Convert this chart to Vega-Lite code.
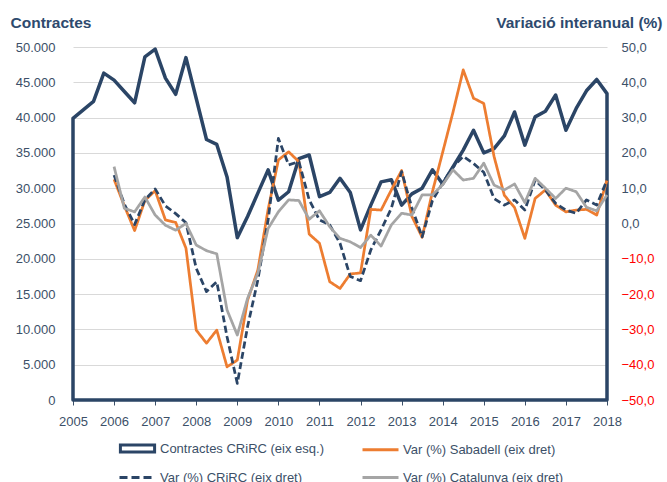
{
  "$schema": "https://vega.github.io/schema/vega-lite/v6.json",
  "width": 534,
  "height": 353,
  "autosize": {"type": "none"},
  "padding": {"left": 73, "top": 47, "right": 60, "bottom": 82},
  "background": "white",
  "title": {"text": "Contractació", "anchor": "start", "frame": "group", "orient": "top", "offset": 43, "baseline": "alphabetic", "dx": -63, "font": "Liberation Sans", "fontSize": 28, "fontWeight": "bold", "color": "#2e4a6e"},
  "config": {
    "view": {"stroke": null},
    "axis": {"labelFont": "Liberation Sans", "labelFontSize": 13, "labelColor": "#3c5068", "titleFont": "Liberation Sans"},
    "legend": {"labelFont": "Liberation Sans", "labelFontSize": 13, "labelColor": "#3c5068"}
  },
  "datasets": {
    "contractes": [
      {"t": 2005, "v": 39900}, {"t": 2005.25, "v": 41100}, {"t": 2005.5, "v": 42300}, {"t": 2005.75, "v": 46300},
      {"t": 2006, "v": 45300}, {"t": 2006.25, "v": 43700}, {"t": 2006.5, "v": 42100}, {"t": 2006.75, "v": 48600},
      {"t": 2007, "v": 49700}, {"t": 2007.25, "v": 45600}, {"t": 2007.5, "v": 43300}, {"t": 2007.75, "v": 48500},
      {"t": 2008, "v": 42700}, {"t": 2008.25, "v": 36900}, {"t": 2008.5, "v": 36200}, {"t": 2008.75, "v": 31600},
      {"t": 2009, "v": 23000}, {"t": 2009.25, "v": 26000}, {"t": 2009.5, "v": 29300}, {"t": 2009.75, "v": 32600},
      {"t": 2010, "v": 28300}, {"t": 2010.25, "v": 29500}, {"t": 2010.5, "v": 34200}, {"t": 2010.75, "v": 34700},
      {"t": 2011, "v": 28800}, {"t": 2011.25, "v": 29400}, {"t": 2011.5, "v": 31400}, {"t": 2011.75, "v": 29400},
      {"t": 2012, "v": 24100}, {"t": 2012.25, "v": 27600}, {"t": 2012.5, "v": 30900}, {"t": 2012.75, "v": 31200},
      {"t": 2013, "v": 27600}, {"t": 2013.25, "v": 29200}, {"t": 2013.5, "v": 30000}, {"t": 2013.75, "v": 32600},
      {"t": 2014, "v": 30600}, {"t": 2014.25, "v": 33000}, {"t": 2014.5, "v": 35400}, {"t": 2014.75, "v": 38200},
      {"t": 2015, "v": 35000}, {"t": 2015.25, "v": 35600}, {"t": 2015.5, "v": 37400}, {"t": 2015.75, "v": 40800},
      {"t": 2016, "v": 36100}, {"t": 2016.25, "v": 40100}, {"t": 2016.5, "v": 40900}, {"t": 2016.75, "v": 43200},
      {"t": 2017, "v": 38200}, {"t": 2017.25, "v": 41300}, {"t": 2017.5, "v": 43800}, {"t": 2017.75, "v": 45400},
      {"t": 2018, "v": 43400}
    ],
    "var": [
      {"s": "Var (%) Sabadell (eix dret)", "t": 2006, "v": 12.5},
      {"s": "Var (%) Sabadell (eix dret)", "t": 2006.25, "v": 5.0},
      {"s": "Var (%) Sabadell (eix dret)", "t": 2006.5, "v": -2.0},
      {"s": "Var (%) Sabadell (eix dret)", "t": 2006.75, "v": 6.5},
      {"s": "Var (%) Sabadell (eix dret)", "t": 2007, "v": 9.3},
      {"s": "Var (%) Sabadell (eix dret)", "t": 2007.25, "v": 1.0},
      {"s": "Var (%) Sabadell (eix dret)", "t": 2007.5, "v": 0.3},
      {"s": "Var (%) Sabadell (eix dret)", "t": 2007.75, "v": -7.0},
      {"s": "Var (%) Sabadell (eix dret)", "t": 2008, "v": -30.2},
      {"s": "Var (%) Sabadell (eix dret)", "t": 2008.25, "v": -33.9},
      {"s": "Var (%) Sabadell (eix dret)", "t": 2008.5, "v": -30.2},
      {"s": "Var (%) Sabadell (eix dret)", "t": 2008.75, "v": -40.6},
      {"s": "Var (%) Sabadell (eix dret)", "t": 2009, "v": -38.7},
      {"s": "Var (%) Sabadell (eix dret)", "t": 2009.25, "v": -21.7},
      {"s": "Var (%) Sabadell (eix dret)", "t": 2009.5, "v": -13.2},
      {"s": "Var (%) Sabadell (eix dret)", "t": 2009.75, "v": 4.0},
      {"s": "Var (%) Sabadell (eix dret)", "t": 2010, "v": 18.0},
      {"s": "Var (%) Sabadell (eix dret)", "t": 2010.25, "v": 20.3},
      {"s": "Var (%) Sabadell (eix dret)", "t": 2010.5, "v": 17.5},
      {"s": "Var (%) Sabadell (eix dret)", "t": 2010.75, "v": -3.0},
      {"s": "Var (%) Sabadell (eix dret)", "t": 2011, "v": -5.6},
      {"s": "Var (%) Sabadell (eix dret)", "t": 2011.25, "v": -16.5},
      {"s": "Var (%) Sabadell (eix dret)", "t": 2011.5, "v": -18.4},
      {"s": "Var (%) Sabadell (eix dret)", "t": 2011.75, "v": -14.3},
      {"s": "Var (%) Sabadell (eix dret)", "t": 2012, "v": -14.0},
      {"s": "Var (%) Sabadell (eix dret)", "t": 2012.25, "v": 4.0},
      {"s": "Var (%) Sabadell (eix dret)", "t": 2012.5, "v": 3.8},
      {"s": "Var (%) Sabadell (eix dret)", "t": 2012.75, "v": 9.5},
      {"s": "Var (%) Sabadell (eix dret)", "t": 2013, "v": 15.0},
      {"s": "Var (%) Sabadell (eix dret)", "t": 2013.25, "v": 2.0},
      {"s": "Var (%) Sabadell (eix dret)", "t": 2013.5, "v": -3.9},
      {"s": "Var (%) Sabadell (eix dret)", "t": 2013.75, "v": 9.0},
      {"s": "Var (%) Sabadell (eix dret)", "t": 2014, "v": 20.2},
      {"s": "Var (%) Sabadell (eix dret)", "t": 2014.25, "v": 31.5},
      {"s": "Var (%) Sabadell (eix dret)", "t": 2014.5, "v": 43.5},
      {"s": "Var (%) Sabadell (eix dret)", "t": 2014.75, "v": 35.5},
      {"s": "Var (%) Sabadell (eix dret)", "t": 2015, "v": 34.0},
      {"s": "Var (%) Sabadell (eix dret)", "t": 2015.25, "v": 19.0},
      {"s": "Var (%) Sabadell (eix dret)", "t": 2015.5, "v": 8.0},
      {"s": "Var (%) Sabadell (eix dret)", "t": 2015.75, "v": 4.5},
      {"s": "Var (%) Sabadell (eix dret)", "t": 2016, "v": -4.2},
      {"s": "Var (%) Sabadell (eix dret)", "t": 2016.25, "v": 7.1},
      {"s": "Var (%) Sabadell (eix dret)", "t": 2016.5, "v": 9.5},
      {"s": "Var (%) Sabadell (eix dret)", "t": 2016.75, "v": 5.2},
      {"s": "Var (%) Sabadell (eix dret)", "t": 2017, "v": 3.3},
      {"s": "Var (%) Sabadell (eix dret)", "t": 2017.25, "v": 3.8},
      {"s": "Var (%) Sabadell (eix dret)", "t": 2017.5, "v": 4.0},
      {"s": "Var (%) Sabadell (eix dret)", "t": 2017.75, "v": 2.4},
      {"s": "Var (%) Sabadell (eix dret)", "t": 2018, "v": 12.3},
      {"s": "Var (%) CRiRC (eix dret)", "t": 2006, "v": 13.7},
      {"s": "Var (%) CRiRC (eix dret)", "t": 2006.25, "v": 5.5},
      {"s": "Var (%) CRiRC (eix dret)", "t": 2006.5, "v": -0.3},
      {"s": "Var (%) CRiRC (eix dret)", "t": 2006.75, "v": 6.7},
      {"s": "Var (%) CRiRC (eix dret)", "t": 2007, "v": 9.8},
      {"s": "Var (%) CRiRC (eix dret)", "t": 2007.25, "v": 5.0},
      {"s": "Var (%) CRiRC (eix dret)", "t": 2007.5, "v": 2.8},
      {"s": "Var (%) CRiRC (eix dret)", "t": 2007.75, "v": 0.2},
      {"s": "Var (%) CRiRC (eix dret)", "t": 2008, "v": -12.7},
      {"s": "Var (%) CRiRC (eix dret)", "t": 2008.25, "v": -19.3},
      {"s": "Var (%) CRiRC (eix dret)", "t": 2008.5, "v": -16.5},
      {"s": "Var (%) CRiRC (eix dret)", "t": 2008.75, "v": -32.1},
      {"s": "Var (%) CRiRC (eix dret)", "t": 2009, "v": -45.3},
      {"s": "Var (%) CRiRC (eix dret)", "t": 2009.25, "v": -29.2},
      {"s": "Var (%) CRiRC (eix dret)", "t": 2009.5, "v": -16.0},
      {"s": "Var (%) CRiRC (eix dret)", "t": 2009.75, "v": 1.0},
      {"s": "Var (%) CRiRC (eix dret)", "t": 2010, "v": 24.1},
      {"s": "Var (%) CRiRC (eix dret)", "t": 2010.25, "v": 16.6},
      {"s": "Var (%) CRiRC (eix dret)", "t": 2010.5, "v": 17.5},
      {"s": "Var (%) CRiRC (eix dret)", "t": 2010.75, "v": 6.7},
      {"s": "Var (%) CRiRC (eix dret)", "t": 2011, "v": 1.0},
      {"s": "Var (%) CRiRC (eix dret)", "t": 2011.25, "v": -0.4},
      {"s": "Var (%) CRiRC (eix dret)", "t": 2011.5, "v": -5.6},
      {"s": "Var (%) CRiRC (eix dret)", "t": 2011.75, "v": -15.0},
      {"s": "Var (%) CRiRC (eix dret)", "t": 2012, "v": -16.2},
      {"s": "Var (%) CRiRC (eix dret)", "t": 2012.25, "v": -7.5},
      {"s": "Var (%) CRiRC (eix dret)", "t": 2012.5, "v": -1.8},
      {"s": "Var (%) CRiRC (eix dret)", "t": 2012.75, "v": 4.3},
      {"s": "Var (%) CRiRC (eix dret)", "t": 2013, "v": 14.7},
      {"s": "Var (%) CRiRC (eix dret)", "t": 2013.25, "v": 4.5},
      {"s": "Var (%) CRiRC (eix dret)", "t": 2013.5, "v": -3.8},
      {"s": "Var (%) CRiRC (eix dret)", "t": 2013.75, "v": 6.5},
      {"s": "Var (%) CRiRC (eix dret)", "t": 2014, "v": 11.5},
      {"s": "Var (%) CRiRC (eix dret)", "t": 2014.25, "v": 16.0},
      {"s": "Var (%) CRiRC (eix dret)", "t": 2014.5, "v": 19.0},
      {"s": "Var (%) CRiRC (eix dret)", "t": 2014.75, "v": 17.0},
      {"s": "Var (%) CRiRC (eix dret)", "t": 2015, "v": 14.5},
      {"s": "Var (%) CRiRC (eix dret)", "t": 2015.25, "v": 7.1},
      {"s": "Var (%) CRiRC (eix dret)", "t": 2015.5, "v": 5.2},
      {"s": "Var (%) CRiRC (eix dret)", "t": 2015.75, "v": 6.7},
      {"s": "Var (%) CRiRC (eix dret)", "t": 2016, "v": 3.8},
      {"s": "Var (%) CRiRC (eix dret)", "t": 2016.25, "v": 12.3},
      {"s": "Var (%) CRiRC (eix dret)", "t": 2016.5, "v": 9.5},
      {"s": "Var (%) CRiRC (eix dret)", "t": 2016.75, "v": 5.7},
      {"s": "Var (%) CRiRC (eix dret)", "t": 2017, "v": 3.8},
      {"s": "Var (%) CRiRC (eix dret)", "t": 2017.25, "v": 2.9},
      {"s": "Var (%) CRiRC (eix dret)", "t": 2017.5, "v": 6.7},
      {"s": "Var (%) CRiRC (eix dret)", "t": 2017.75, "v": 5.2},
      {"s": "Var (%) CRiRC (eix dret)", "t": 2018, "v": 12.3},
      {"s": "Var (%) Catalunya (eix dret)", "t": 2006, "v": 16.1},
      {"s": "Var (%) Catalunya (eix dret)", "t": 2006.25, "v": 4.3},
      {"s": "Var (%) Catalunya (eix dret)", "t": 2006.5, "v": 3.3},
      {"s": "Var (%) Catalunya (eix dret)", "t": 2006.75, "v": 7.5},
      {"s": "Var (%) Catalunya (eix dret)", "t": 2007, "v": 2.4},
      {"s": "Var (%) Catalunya (eix dret)", "t": 2007.25, "v": -0.5},
      {"s": "Var (%) Catalunya (eix dret)", "t": 2007.5, "v": -1.9},
      {"s": "Var (%) Catalunya (eix dret)", "t": 2007.75, "v": 0.0},
      {"s": "Var (%) Catalunya (eix dret)", "t": 2008, "v": -6.1},
      {"s": "Var (%) Catalunya (eix dret)", "t": 2008.25, "v": -7.7},
      {"s": "Var (%) Catalunya (eix dret)", "t": 2008.5, "v": -8.6},
      {"s": "Var (%) Catalunya (eix dret)", "t": 2008.75, "v": -24.5},
      {"s": "Var (%) Catalunya (eix dret)", "t": 2009, "v": -31.6},
      {"s": "Var (%) Catalunya (eix dret)", "t": 2009.25, "v": -21.2},
      {"s": "Var (%) Catalunya (eix dret)", "t": 2009.5, "v": -14.1},
      {"s": "Var (%) Catalunya (eix dret)", "t": 2009.75, "v": -1.4},
      {"s": "Var (%) Catalunya (eix dret)", "t": 2010, "v": 3.3},
      {"s": "Var (%) Catalunya (eix dret)", "t": 2010.25, "v": 6.7},
      {"s": "Var (%) Catalunya (eix dret)", "t": 2010.5, "v": 6.5},
      {"s": "Var (%) Catalunya (eix dret)", "t": 2010.75, "v": 1.2},
      {"s": "Var (%) Catalunya (eix dret)", "t": 2011, "v": 3.6},
      {"s": "Var (%) Catalunya (eix dret)", "t": 2011.25, "v": -0.9},
      {"s": "Var (%) Catalunya (eix dret)", "t": 2011.5, "v": -4.2},
      {"s": "Var (%) Catalunya (eix dret)", "t": 2011.75, "v": -5.2},
      {"s": "Var (%) Catalunya (eix dret)", "t": 2012, "v": -6.8},
      {"s": "Var (%) Catalunya (eix dret)", "t": 2012.25, "v": -3.3},
      {"s": "Var (%) Catalunya (eix dret)", "t": 2012.5, "v": -6.4},
      {"s": "Var (%) Catalunya (eix dret)", "t": 2012.75, "v": -0.4},
      {"s": "Var (%) Catalunya (eix dret)", "t": 2013, "v": 2.9},
      {"s": "Var (%) Catalunya (eix dret)", "t": 2013.25, "v": 2.4},
      {"s": "Var (%) Catalunya (eix dret)", "t": 2013.5, "v": 8.1},
      {"s": "Var (%) Catalunya (eix dret)", "t": 2013.75, "v": 8.1},
      {"s": "Var (%) Catalunya (eix dret)", "t": 2014, "v": 11.0},
      {"s": "Var (%) Catalunya (eix dret)", "t": 2014.25, "v": 15.2},
      {"s": "Var (%) Catalunya (eix dret)", "t": 2014.5, "v": 12.3},
      {"s": "Var (%) Catalunya (eix dret)", "t": 2014.75, "v": 12.8},
      {"s": "Var (%) Catalunya (eix dret)", "t": 2015, "v": 17.1},
      {"s": "Var (%) Catalunya (eix dret)", "t": 2015.25, "v": 10.9},
      {"s": "Var (%) Catalunya (eix dret)", "t": 2015.5, "v": 9.5},
      {"s": "Var (%) Catalunya (eix dret)", "t": 2015.75, "v": 11.2},
      {"s": "Var (%) Catalunya (eix dret)", "t": 2016, "v": 5.9},
      {"s": "Var (%) Catalunya (eix dret)", "t": 2016.25, "v": 12.8},
      {"s": "Var (%) Catalunya (eix dret)", "t": 2016.5, "v": 10.0},
      {"s": "Var (%) Catalunya (eix dret)", "t": 2016.75, "v": 7.1},
      {"s": "Var (%) Catalunya (eix dret)", "t": 2017, "v": 10.0},
      {"s": "Var (%) Catalunya (eix dret)", "t": 2017.25, "v": 9.0},
      {"s": "Var (%) Catalunya (eix dret)", "t": 2017.5, "v": 4.6},
      {"s": "Var (%) Catalunya (eix dret)", "t": 2017.75, "v": 3.6},
      {"s": "Var (%) Catalunya (eix dret)", "t": 2018, "v": 8.1}
    ]
  },
  "layer": [
    {
      "data": {"name": "contractes"},
      "mark": {"type": "area", "fill": "transparent", "stroke": "#2b4566", "strokeWidth": 3.5, "strokeJoin": "round"},
      "encoding": {
        "x": {"field": "t", "type": "quantitative",
          "scale": {"domain": [2005, 2018], "nice": false, "zero": false},
          "axis": {"title": null, "grid": false,
            "values": [2005,2005.25,2005.5,2005.75,2006,2006.25,2006.5,2006.75,2007,2007.25,2007.5,2007.75,2008,2008.25,2008.5,2008.75,2009,2009.25,2009.5,2009.75,2010,2010.25,2010.5,2010.75,2011,2011.25,2011.5,2011.75,2012,2012.25,2012.5,2012.75,2013,2013.25,2013.5,2013.75,2014,2014.25,2014.5,2014.75,2015,2015.25,2015.5,2015.75,2016,2016.25,2016.5,2016.75,2017,2017.25,2017.5,2017.75,2018],
            "labelExpr": "datum.value % 1 === 0 ? toString(datum.value) : ''",
            "labelOverlap": false, "labelFlush": false, "labelPadding": 10,
            "tickSize": 5, "tickColor": "#3c5068", "domainColor": "#a6a6a6"}},
        "y": {"field": "v", "type": "quantitative",
          "scale": {"domain": [0, 50000], "nice": false},
          "axis": {"orient": "left", "values": [0,5000,10000,15000,20000,25000,30000,35000,40000,45000,50000],
            "labelExpr": "replace(format(datum.value, ',d'), ',', '.')",
            "ticks": false, "domain": false, "labelPadding": 18,
            "grid": true, "gridColor": "#d9d9d9", "gridWidth": 1,
            "title": "Contractes", "titleAngle": 0, "titleX": -63, "titleY": -20,
            "titleAlign": "left", "titleBaseline": "alphabetic", "titleFontSize": 15.5,
            "titleFontWeight": "bold", "titleColor": "#2e4a6e"}}
      }
    },
    {
      "data": {"name": "var"},
      "mark": {"type": "line", "strokeWidth": 2.75, "strokeJoin": "round"},
      "encoding": {
        "x": {"field": "t", "type": "quantitative", "scale": {"domain": [2005, 2018], "nice": false, "zero": false}},
        "y": {"field": "v", "type": "quantitative",
          "scale": {"domain": [-50, 50], "nice": false},
          "axis": {"orient": "right", "values": [-50,-40,-30,-20,-10,0,10,20,30,40,50],
            "labelExpr": "replace(format(datum.value, '.1f'), '.', ',')",
            "labelColor": {"condition": {"test": "datum.value < 0", "value": "#ff0000"}, "value": "#3c5068"},
            "ticks": false, "domain": false, "grid": false, "labelPadding": 14,
            "title": "Variació interanual (%)", "titleAngle": 0, "titleX": 55, "titleY": -20,
            "titleAlign": "right", "titleBaseline": "alphabetic", "titleFontSize": 15.5,
            "titleFontWeight": "bold", "titleColor": "#2e4a6e"}},
        "color": {"field": "s", "type": "nominal",
          "scale": {"domain": ["Contractes CRiRC (eix esq.)", "Var (%) Sabadell (eix dret)", "Var (%) CRiRC (eix dret)", "Var (%) Catalunya (eix dret)"],
                    "range": ["#2b4566", "#ed7d31", "#2b4566", "#a5a5a5"]},
          "legend": {"title": null, "orient": "none", "direction": "horizontal", "legendX": 45, "legendY": 382, "columns": 2,
            "columnPadding": 32, "rowPadding": -12, "padding": 0, "symbolType": "stroke", "symbolSize": 1296,
            "symbolStrokeWidth": 3, "labelOffset": 3, "labelLimit": 300,
            "encode": {"symbols": {"update": {
              "shape": {"signal": "datum.value === 'Contractes CRiRC (eix esq.)' ? 'M-0.95,-0.19H0.95V0.19H-0.95Z' : 'stroke'"},
              "strokeDash": {"signal": "datum.value === 'Var (%) CRiRC (eix dret)' ? [8,4] : [1,0]"},
              "fill": {"value": "transparent"},
              "strokeWidth": {"value": 3}
            }}}}},
        "strokeDash": {"field": "s", "type": "nominal",
          "scale": {"domain": ["Var (%) Sabadell (eix dret)", "Var (%) CRiRC (eix dret)", "Var (%) Catalunya (eix dret)"],
                    "range": [[1, 0], [7, 3.5], [1, 0]]},
          "legend": null}
      }
    }
  ],
  "resolve": {"scale": {"y": "independent"}, "axis": {"y": "independent"}}
}
